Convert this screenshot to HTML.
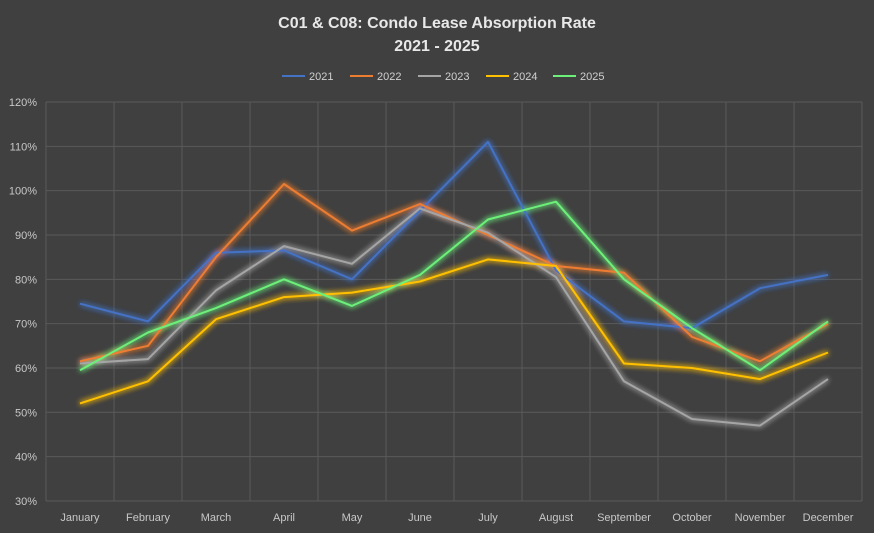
<!DOCTYPE html>
<html><head><style>
body{margin:0;background:#404040;}
svg{display:block;font-family:"Liberation Sans",sans-serif;}
</style></head><body>
<svg width="874" height="533" viewBox="0 0 874 533" xmlns="http://www.w3.org/2000/svg">
<defs><filter id="g" x="-10%" y="-20%" width="120%" height="140%"><feGaussianBlur in="SourceGraphic" stdDeviation="3" result="b"/><feMerge><feMergeNode in="b"/><feMergeNode in="b"/><feMergeNode in="SourceGraphic"/></feMerge></filter></defs>
<rect width="874" height="533" fill="#404040"/>
<text x="437" y="28" text-anchor="middle" font-size="16" font-weight="bold" fill="#e8e8e8">C01 &amp; C08: Condo Lease Absorption Rate</text>
<text x="437" y="51" text-anchor="middle" font-size="16" font-weight="bold" fill="#e8e8e8">2021 - 2025</text>
<g font-size="11" fill="#d0d0d0">
<line x1="282" y1="76" x2="305" y2="76" stroke="#4472C4" stroke-width="2"/><text x="309" y="80">2021</text>
<line x1="350" y1="76" x2="373" y2="76" stroke="#ED7D31" stroke-width="2"/><text x="377" y="80">2022</text>
<line x1="418" y1="76" x2="441" y2="76" stroke="#A5A5A5" stroke-width="2"/><text x="445" y="80">2023</text>
<line x1="486" y1="76" x2="509" y2="76" stroke="#FFC000" stroke-width="2"/><text x="513" y="80">2024</text>
<line x1="553" y1="76" x2="576" y2="76" stroke="#6CF07A" stroke-width="2"/><text x="580" y="80">2025</text>
</g>
<g id="grid" stroke="#5a5a5a" stroke-width="1"></g>
<g id="ylab" font-size="11" fill="#c8c8c8" text-anchor="end"></g>
<g id="xlab" font-size="11" fill="#c8c8c8" text-anchor="middle"></g>
<g id="lines" fill="none" stroke-width="2" stroke-linejoin="round" filter="url(#g)"></g>
<script>
var ns="http://www.w3.org/2000/svg";
function el(p,t,a,txt){var e=document.createElementNS(ns,t);for(var k in a)e.setAttribute(k,a[k]);if(txt)e.textContent=txt;document.getElementById(p).appendChild(e);}
function Y(v){return 102+(120-v)*4.433;}
for(var v=30;v<=120;v+=10){el("grid","line",{x1:46,x2:862,y1:Y(v),y2:Y(v)});el("ylab","text",{x:37,y:Y(v)+4},v+"%");}
for(var i=0;i<=12;i++){el("grid","line",{x1:46+68*i,x2:46+68*i,y1:102,y2:501});}
var m=["January","February","March","April","May","June","July","August","September","October","November","December"];
m.forEach(function(s,i){el("xlab","text",{x:80+68*i,y:521},s);});
var d=[["#4472C4",[74.5,70.5,86,86.5,80,95.5,111,82,70.5,69,78,81]],
["#ED7D31",[61.5,65,85,101.5,91,97,90,83,81.5,67,61.5,70]],
["#A5A5A5",[61,62,77.5,87.5,83.5,96,90.5,80.5,57,48.5,47,57.5]],
["#FFC000",[52,57,71,76,77,79.5,84.5,83,61,60,57.5,63.5]],
["#6CF07A",[59.5,68,73.5,80,74,81,93.5,97.5,80,69,59.5,70.5]]];
d.forEach(function(s){el("lines","polyline",{stroke:s[0],points:s[1].map(function(v,i){return (80+68*i)+","+Y(v).toFixed(1);}).join(" ")});});
</script>
</svg>
</body></html>
